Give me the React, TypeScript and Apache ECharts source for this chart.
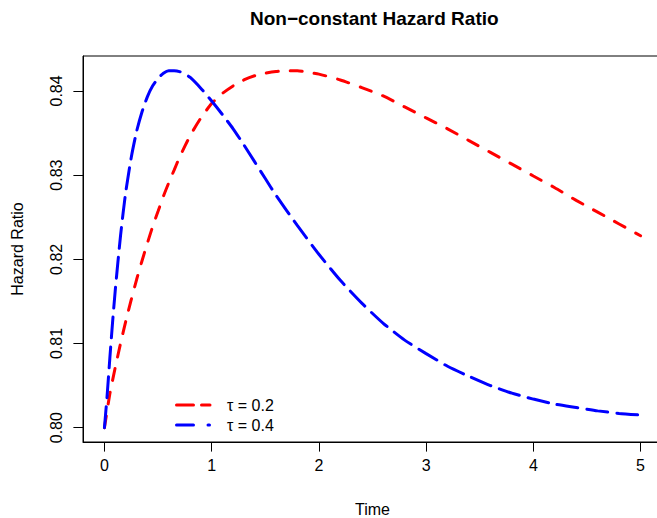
import React, { useEffect, useRef } from "react";
import * as echarts from "echarts";

// Time points and hazard ratio values
const timeRed = [0, 0.05, 0.1, 0.15, 0.2, 0.25, 0.3, 0.35, 0.4, 0.45, 0.5, 0.55, 0.6, 0.65, 0.7, 0.8, 0.9, 1.0, 1.1, 1.2, 1.3, 1.4, 1.5, 1.6, 1.7, 1.8, 1.9, 2.0, 2.2, 2.4, 2.6, 2.8, 3.0, 3.2, 3.4, 3.6, 3.8, 4.0, 4.2, 4.4, 4.6, 4.8, 5.0];
const hrRed = [0.8000, 0.8040, 0.8071, 0.8100, 0.8127, 0.8152, 0.8176, 0.8198, 0.8219, 0.8239, 0.8257, 0.8275, 0.8291, 0.8306, 0.8321, 0.8347, 0.8368, 0.8385, 0.8397, 0.8406, 0.8413, 0.8418, 0.8421, 0.8423, 0.8424, 0.8424, 0.8422, 0.8420, 0.8413, 0.8404, 0.8394, 0.8381, 0.8368, 0.8355, 0.8341, 0.8327, 0.8313, 0.8299, 0.8285, 0.8270, 0.8256, 0.8242, 0.8228];

const timeBlue = [0, 0.025, 0.05, 0.075, 0.1, 0.125, 0.15, 0.175, 0.2, 0.25, 0.3, 0.35, 0.4, 0.45, 0.5, 0.55, 0.6, 0.65, 0.7, 0.75, 0.8, 0.9, 1.0, 1.1, 1.2, 1.3, 1.4, 1.5, 1.6, 1.8, 2.0, 2.2, 2.4, 2.6, 2.8, 3.0, 3.2, 3.4, 3.6, 3.8, 4.0, 4.2, 4.4, 4.6, 4.8, 5.0];
const hrBlue = [0.8000, 0.8038, 0.8082, 0.8124, 0.8162, 0.8196, 0.8228, 0.8256, 0.8281, 0.8321, 0.8352, 0.8375, 0.8393, 0.8406, 0.8415, 0.8421, 0.8424, 0.8424, 0.8423, 0.8420, 0.8416, 0.8403, 0.8388, 0.8372, 0.8355, 0.8336, 0.8316, 0.8296, 0.8276, 0.8240, 0.8206, 0.8175, 0.8148, 0.8124, 0.8104, 0.8088, 0.8073, 0.8061, 0.8050, 0.8041, 0.8034, 0.8028, 0.8024, 0.8020, 0.8017, 0.8015];

const xTicks = [0, 1, 2, 3, 4, 5];
const yTicks = [0.8, 0.81, 0.82, 0.83, 0.84];
const seriesNames = ["τ = 0.2", "τ = 0.4"];
const titleText = "Non−constant Hazard Ratio";
const xTitle = "Time";
const yTitle = "Hazard Ratio";

export default function App() {
  const ref = useRef<HTMLDivElement>(null);
  useEffect(() => {
    const chart = echarts.init(ref.current as HTMLDivElement, null, { renderer: "svg" });
    const font = "'Liberation Sans', Arial, Helvetica, sans-serif";
    const red = "#FF0000";
    const blue = "#0000FF";
    chart.setOption({
      animation: false,
      backgroundColor: "#FFFFFF",
      title: {
        text: titleText,
        left: 245,
        top: 4,
        textStyle: { fontFamily: font, fontSize: 19, fontWeight: "bold", color: "#000" },
      },
      grid: {
        left: 83,
        top: 56,
        width: 579,
        height: 386,
        show: true,
        borderColor: "#000",
        borderWidth: 1,
        backgroundColor: "transparent",
        containLabel: false,
        outerBoundsMode: "none",
      },
      xAxis: {
        type: "value",
        min: -0.2,
        max: 5.2,
        axisLine: { show: true, onZero: false, lineStyle: { color: "#000", width: 1 } },
        axisTick: { show: true, length: 9.6, lineStyle: { color: "#000" }, customValues: xTicks },
        axisLabel: { customValues: xTicks, fontSize: 16, color: "#000", margin: 15, fontFamily: font },
        splitLine: { show: false },
        name: xTitle,
        nameLocation: "middle",
        nameGap: 60,
        nameTextStyle: { fontSize: 16, lineHeight: 14, color: "#000", fontFamily: font },
      },
      yAxis: {
        type: "value",
        min: 0.798302,
        max: 0.844148,
        axisLine: { show: true, onZero: false, lineStyle: { color: "#000", width: 1 } },
        axisTick: { show: true, length: 9.6, lineStyle: { color: "#000" }, customValues: yTicks },
        axisLabel: {
          customValues: yTicks,
          fontSize: 16,
          color: "#000",
          margin: 19,
          rotate: 90,
          fontFamily: font,
          formatter: (v: number) => v.toFixed(2),
        },
        splitLine: { show: false },
        name: yTitle,
        nameLocation: "middle",
        nameGap: 58,
        nameTextStyle: { fontSize: 16, color: "#000", fontFamily: font },
      },
      series: [
        {
          name: seriesNames[0],
          type: "line",
          data: timeRed.map((t, i) => [t, hrRed[i]]),
          showSymbol: false,
          symbol: "none",
          smooth: 0.2,
          lineStyle: { color: red, width: 3, type: [12, 12], cap: "round" },
        },
        {
          name: seriesNames[1],
          type: "line",
          data: timeBlue.map((t, i) => [t, hrBlue[i]]),
          showSymbol: false,
          symbol: "none",
          smooth: 0.2,
          lineStyle: { color: blue, width: 3, type: [21, 9], cap: "round" },
        },
      ],
      graphic: [
        { type: "line", shape: { x1: 176.5, y1: 405, x2: 193.5, y2: 405 }, style: { stroke: red, lineWidth: 3, lineCap: "round" } },
        { type: "line", shape: { x1: 201.5, y1: 405, x2: 210, y2: 405 }, style: { stroke: red, lineWidth: 3, lineCap: "round" } },
        { type: "line", shape: { x1: 176.5, y1: 425, x2: 193.5, y2: 425 }, style: { stroke: blue, lineWidth: 3, lineCap: "round" } },
        { type: "line", shape: { x1: 208, y1: 425, x2: 209.5, y2: 425 }, style: { stroke: blue, lineWidth: 3, lineCap: "round" } },
        { type: "text", x: 227, y: 405, style: { text: seriesNames[0], fontSize: 16, fontFamily: font, fill: "#000", align: "left", verticalAlign: "middle" } },
        { type: "text", x: 227, y: 425, style: { text: seriesNames[1], fontSize: 16, fontFamily: font, fill: "#000", align: "left", verticalAlign: "middle" } },
      ],
    });
    return () => chart.dispose();
  }, []);
  return <div ref={ref} style={{ position: "fixed", left: 0, top: 0, width: 657, height: 518 }} />;
}
